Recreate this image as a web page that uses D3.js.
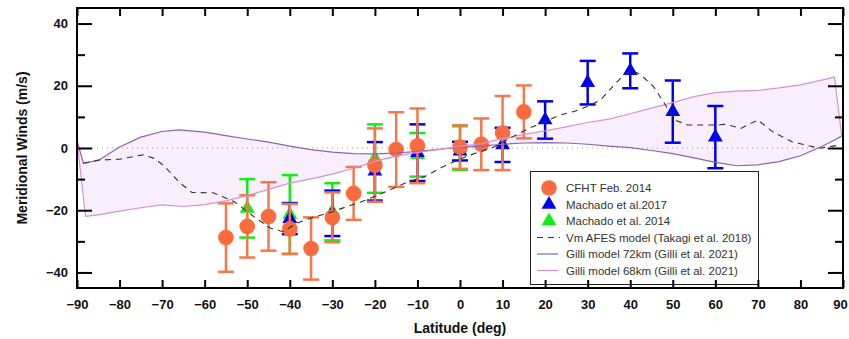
<!DOCTYPE html>
<html lang="en">
<head>
<meta charset="utf-8">
<script src="https://d3js.org/d3.v7.min.js"></script>
<style>
  body { margin: 0; background: #fff; }
  text { font-family: "Liberation Sans", Arial, sans-serif; }
</style>
</head>
<body>
<script>

// observations //
const cfhtLat = [-55, -50, -45, -40, -35, -30, -25, -20, -15, -10, 0, 5, 10, 15],
      cfhtVal = [-28.8, -25.2, -22, -26, -32.3, -22.3, -14.6, -5.5, -0.5, 0.7, 0.3, 1.2, 4.8, 11.6],
      cfhtErr = [11, 10, 11, 8, 10, 8, 8.5, 11.8, 12, 12, 7, 8.3, 11.9, 8.5];

const m17Lat = [-40, -30, -20, -10, 0, 10, 20, 30, 40, 50, 60],
      m17Val = [-22.7, -21, -7.5, -1.5, -1, 1, 9, 21, 24.8, 11.7, 3.5],
      m17Err = [5, 7.3, 9.4, 9.1, 3, 5.5, 6, 7, 5.6, 10, 10];

const m14Lat = [-50, -40, -30, -20, -10, 0],
      m14Val = [-19.4, -21.4, -20.5, -3.4, -2.2, 0],
      m14Err = [9.4, 12.7, 9.2, 11, 7, 7];

// models //
const afesLat = [-88.5, -85, -80, -74.5, -71.5, -69, -66, -63, -58, -53, -48.5, -44.5, -41.5, -38.5, -35, -30,
                 -25.5, -22, -17, -12.5, -8, -4, 0, 4, 8, 12, 16, 20, 23.5, 27, 30, 33, 35.5, 38.5, 40.5, 42.5,
                 45.5, 48, 50.5, 53.5, 59.5, 62.5, 66, 70, 73.5, 78, 84.5, 89.5],
      afesVal = [-4.9, -3.9, -3.6, -2.2, -3.5, -6.5, -11, -14.3, -14.4, -17.3, -22, -25.8, -26.9, -24.2, -22.5, -20.5,
                 -18.3, -16.7, -13.8, -11, -9, -6, -3.5, -1.5, 0.3, 3.3, 6.2, 8.5, 10.6, 11.8, 13.4, 15.4, 19.2, 23.5, 25, 23.5,
                 19.7, 14.4, 9, 7.4, 7.4, 7.6, 6.3, 9, 5.2, 2, -0.1, 1];

const g72Lat = [-90, -88.5, -85, -80, -75, -70, -66, -60, -55, -50, -45, -40, -35, -30, -25, -20, -15, -10, -5, 0,
                5, 10, 15, 20, 25, 30, 35, 40, 45, 50, 55, 60, 65, 70, 75, 80, 85, 88, 89.7],
      g72Val = [2.5, -4.9, -4.0, 0.3, 3.5, 5.3, 5.8, 5.1, 4.0, 2.9, 1.9, 0.6, -0.5, -1.3, -1.8, -1.9, -1.6, -1.1, -0.4, 0.2,
                0.6, 1.2, 1.6, 1.7, 1.6, 1.2, 0.6, 0.1, -0.8, -1.8, -3.2, -4.6, -5.7, -5.4, -4.4, -2.5, 0.5, 2.6, 3.9];

const g68Lat = [-90, -88, -85, -80, -75, -70, -65, -60, -55, -50, -45, -40, -35, -30, -25, -20, -15, -10, -5, 0,
                5, 10, 15, 20, 25, 30, 35, 40, 45, 50, 55, 60, 65, 70, 75, 80, 85, 88, 89.7],
      g68Val = [2.5, -22, -21.5, -20.3, -19.2, -18.3, -18.8, -18.2, -17.0, -15.3, -13.3, -11.3, -9.9, -8.4, -6.5, -4.3, -2.6, -1.4, -0.5, 0.5,
                1.4, 3.0, 4.4, 5.5, 6.8, 8.2, 9.3, 11.0, 12.8, 14.6, 16.5, 17.8, 18.3, 18.5, 19.3, 20.3, 21.8, 22.8, 3.9];

const xTicks = d3.range(-90, 91, 10),
      yMajor = [-40, -20, 0, 20, 40],
      yMinor = [-30, -10, 10, 30];

const legendLabels = ['CFHT Feb. 2014', 'Machado et al.2017', 'Machado et al. 2014',
                      'Vm AFES model (Takagi et al. 2018)', 'Gilli model 72km (Gilli et al. 2021)',
                      'Gilli model 68km (Gilli et al. 2021)'];

const orange = '#fa6b3e', orangeBar = '#f4784c', blue = '#0000f0', green = '#11ee11',
      purple = '#8a63b0', pink = '#d690d6';

const W = 849, H = 339,
      L = 77, R = 843, T = 8, B = 288;

const x = d3.scaleLinear().domain([-90, 90]).range([L, R]),
      y = d3.scaleLinear().domain([-45, 45]).range([B, T]);

const svg = d3.select('body').append('svg')
  .attr('width', W).attr('height', H);

const toPts = (lat, val) => lat.map((d, i) => [d, val[i]]);
const line = d3.line().x(d => x(d[0])).y(d => y(d[1]));

// Gilli band
const p72 = toPts(g72Lat, g72Val), p68 = toPts(g68Lat, g68Val);
svg.append('path')
  .attr('d', line(p72.concat(p68.slice().reverse())) + 'Z')
  .attr('fill', '#f9effc').attr('stroke', 'none');

// zero line
svg.append('line')
  .attr('x1', x(-90)).attr('x2', x(90)).attr('y1', y(0)).attr('y2', y(0))
  .attr('stroke', '#999').attr('stroke-width', 1).attr('stroke-dasharray', '1,4');

// error bars + markers
function errBars(lat, val, err, color, w) {
  const g = svg.append('g').attr('stroke', color).attr('stroke-width', w).attr('fill', 'none');
  lat.forEach((d, i) => {
    const cx = x(d), y1 = y(val[i] + err[i]), y2 = y(val[i] - err[i]);
    g.append('line').attr('x1', cx).attr('x2', cx).attr('y1', y1).attr('y2', y2);
    g.append('line').attr('x1', cx - 8).attr('x2', cx + 8).attr('y1', y1).attr('y2', y1);
    g.append('line').attr('x1', cx - 8).attr('x2', cx + 8).attr('y1', y2).attr('y2', y2);
  });
}
const tri = d3.symbol().type(d3.symbolTriangle).size(95);

errBars(m14Lat, m14Val, m14Err, green, 2.5);
svg.append('g').selectAll('path').data(m14Lat).join('path')
  .attr('d', tri).attr('fill', green)
  .attr('transform', (d, i) => `translate(${x(d)},${y(m14Val[i])})`);

errBars(m17Lat, m17Val, m17Err, blue, 2.5);
svg.append('g').selectAll('path').data(m17Lat).join('path')
  .attr('d', tri).attr('fill', blue)
  .attr('transform', (d, i) => `translate(${x(d)},${y(m17Val[i])})`);

errBars(cfhtLat, cfhtVal, cfhtErr, orangeBar, 2.5);
svg.append('g').selectAll('circle').data(cfhtLat).join('circle')
  .attr('cx', d => x(d)).attr('cy', (d, i) => y(cfhtVal[i]))
  .attr('r', 7.8).attr('fill', orange);

// model lines
svg.append('path').attr('d', line(p72)).attr('fill', 'none')
  .attr('stroke', purple).attr('stroke-width', 1.2);
svg.append('path').attr('d', line(p68)).attr('fill', 'none')
  .attr('stroke', pink).attr('stroke-width', 1.2);
svg.append('path').attr('d', line(toPts(afesLat, afesVal))).attr('fill', 'none')
  .attr('stroke', '#333').attr('stroke-width', 1.1).attr('stroke-dasharray', '6,5');

// legend
const lg = svg.append('g');
lg.append('rect').attr('x', 530.5).attr('y', 171.5).attr('width', 228).attr('height', 113)
  .attr('fill', '#fff').attr('stroke', '#222').attr('stroke-width', 1);
const ly = i => 188 + i * 16.5, lx = 549;
lg.append('circle').attr('cx', lx).attr('cy', ly(0)).attr('r', 7.8).attr('fill', orange);
lg.append('path').attr('d', tri).attr('fill', blue).attr('transform', `translate(${lx},${ly(1)})`);
lg.append('path').attr('d', tri).attr('fill', green).attr('transform', `translate(${lx},${ly(2)})`);
lg.append('line').attr('x1', 537).attr('x2', 560).attr('y1', ly(3)).attr('y2', ly(3))
  .attr('stroke', '#333').attr('stroke-width', 1.1).attr('stroke-dasharray', '6,5');
lg.append('line').attr('x1', 537).attr('x2', 558).attr('y1', ly(4)).attr('y2', ly(4))
  .attr('stroke', purple).attr('stroke-width', 1.2);
lg.append('line').attr('x1', 537).attr('x2', 558).attr('y1', ly(5)).attr('y2', ly(5))
  .attr('stroke', pink).attr('stroke-width', 1.2);
lg.selectAll('text.lab').data(legendLabels).join('text').attr('class', 'lab')
  .attr('x', 566).attr('y', (d, i) => ly(i)).attr('dy', '0.36em')
  .attr('font-size', 11.5).attr('fill', '#333').text(d => d);

// axes
const tickFont = g => g.selectAll('text').attr('font-size', 13).attr('font-weight', 'bold')
  .attr('fill', '#111').attr('font-family', '"Liberation Sans", Arial, sans-serif');
const stylAx = g => { g.select('.domain').remove(); g.selectAll('line').attr('stroke', '#000').attr('stroke-width', 2); };

const xAx = svg.append('g').attr('transform', `translate(0,${B})`)
  .call(d3.axisBottom(x).tickValues(xTicks).tickSize(-8).tickPadding(12))
  .call(stylAx).call(tickFont);
// keep the last label inside the window
xAx.selectAll('.tick').filter(d => d === 90).select('text').attr('dx', -3);

svg.append('g').attr('transform', `translate(0,${T})`)
  .call(d3.axisTop(x).tickValues(xTicks).tickSize(-8).tickFormat(''))
  .call(stylAx);

svg.append('g').attr('transform', `translate(${L},0)`)
  .call(d3.axisLeft(y).tickValues(yMajor).tickSize(-15).tickPadding(9))
  .call(stylAx).call(tickFont);
svg.append('g').attr('transform', `translate(${L},0)`)
  .call(d3.axisLeft(y).tickValues(yMinor).tickSize(-8).tickFormat(''))
  .call(stylAx);
svg.append('g').attr('transform', `translate(${R},0)`)
  .call(d3.axisRight(y).tickValues(yMajor).tickSize(-15).tickFormat(''))
  .call(stylAx);
svg.append('g').attr('transform', `translate(${R},0)`)
  .call(d3.axisRight(y).tickValues(yMinor).tickSize(-8).tickFormat(''))
  .call(stylAx);

// frame
svg.append('rect').attr('x', L).attr('y', T).attr('width', R - L).attr('height', B - T)
  .attr('fill', 'none').attr('stroke', '#000').attr('stroke-width', 2);

// titles
svg.append('text').attr('x', (L + R) / 2).attr('y', 333).attr('text-anchor', 'middle')
  .attr('font-size', 14).attr('font-weight', 'bold').attr('fill', '#111').text('Latitude (deg)');
svg.append('text').attr('transform', `translate(27,${(T + B) / 2}) rotate(-90)`)
  .attr('text-anchor', 'middle').attr('font-size', 14).attr('font-weight', 'bold')
  .attr('fill', '#111').text('Meridional Winds (m/s)');

</script>
</body>
</html>
